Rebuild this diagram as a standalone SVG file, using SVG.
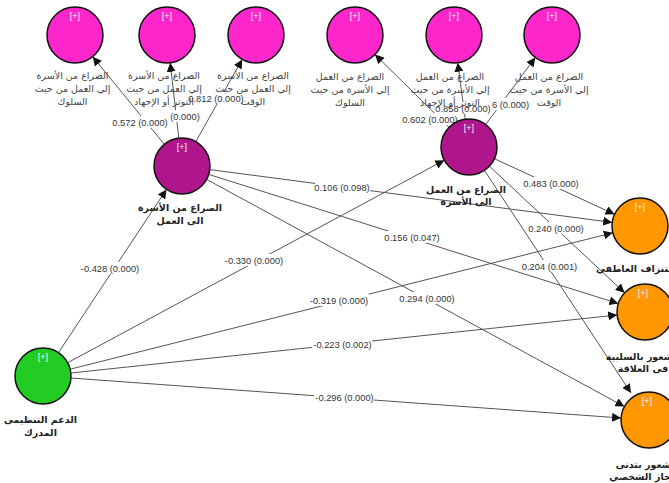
<svg xmlns="http://www.w3.org/2000/svg" width="669" height="483" viewBox="0 0 669 483">
<defs>
<marker id="arr" viewBox="0 0 10 10" refX="10" refY="5" markerWidth="9" markerHeight="9" markerUnits="userSpaceOnUse" orient="auto">
<path d="M0,0 L10,5 L0,10 z" fill="#111"/>
</marker>
<style>
.c{stroke:#111;stroke-width:1.5}
.mg{fill:#FD26CB}
.pu{fill:#B0168B}
.or{fill:#FF9700}
.gr{fill:#22CC22}
.plus{font-family:"Liberation Sans",sans-serif;font-size:9px;fill:#f4f4f4;text-anchor:middle}
.ind{font-family:"DejaVu Sans",sans-serif;font-size:9.5px;fill:#444;text-anchor:middle}
.lv{font-family:"DejaVu Sans",sans-serif;font-size:9.5px;font-weight:bold;fill:#222;text-anchor:middle}
.ln{stroke:#555;stroke-width:1;fill:none;marker-end:url(#arr)}
.lb{font-family:"Liberation Sans",sans-serif;font-size:9.3px;fill:#333;text-anchor:middle}
.bg{fill:#fff}
</style>
</defs>
<g id="connectors">
<line class="ln" x1="164.3" y1="144.3" x2="92.7" y2="56.7"/>
<line class="ln" x1="178.8" y1="138.2" x2="170.2" y2="62.8"/>
<line class="ln" x1="195.8" y1="141.6" x2="242.2" y2="59.4"/>
<line class="ln" x1="449" y1="127.4" x2="375" y2="54.6"/>
<line class="ln" x1="465.3" y1="119.3" x2="457.7" y2="62.7"/>
<line class="ln" x1="485.7" y1="124.5" x2="535.3" y2="57.5"/>
<line class="ln" x1="58.5" y1="352.6" x2="166.5" y2="189.4"/>
<line class="ln" x1="67.7" y1="362.7" x2="444.3" y2="160.2"/>
<line class="ln" x1="70.2" y1="369.2" x2="612.8" y2="232.8"/>
<line class="ln" x1="70.8" y1="373" x2="617.2" y2="315"/>
<line class="ln" x1="70.9" y1="378" x2="621.1" y2="418"/>
<line class="ln" x1="209.8" y1="169.6" x2="612.2" y2="222.4"/>
<line class="ln" x1="208.7" y1="174.4" x2="618.3" y2="303.6"/>
<line class="ln" x1="206.6" y1="179.4" x2="624.4" y2="406.6"/>
<line class="ln" x1="494.4" y1="158.7" x2="614.6" y2="214.3"/>
<line class="ln" x1="489.4" y1="166.2" x2="624.6" y2="292.8"/>
<line class="ln" x1="484.4" y1="170.4" x2="631" y2="393"/>
<rect class="bg" x="112" y="116" width="57" height="12"/><text class="lb" x="140" y="125.5">0.572 (0.000)</text>
<rect class="bg" x="171" y="110" width="28" height="12"/><text class="lb" x="185" y="119.5">(0.000)</text>
<rect class="bg" x="189" y="92" width="55" height="12"/><text class="lb" x="216" y="101.5">0.812 (0.000)</text>
<rect class="bg" x="403" y="113" width="55" height="12"/><text class="lb" x="430" y="122.5">0.602 (0.000)</text>
<rect class="bg" x="493" y="98" width="35" height="12"/><text class="lb" x="510.5" y="107.5">6 (0.000)</text>
<rect class="bg" x="436" y="102" width="55" height="12"/><text class="lb" x="463" y="111.5">0.858 (0.000)</text>
<rect class="bg" x="80" y="262" width="60" height="12"/><text class="lb" x="110" y="271.5">-0.428 (0.000)</text>
<rect class="bg" x="224" y="254" width="60" height="12"/><text class="lb" x="254" y="263.5">-0.330 (0.000)</text>
<rect class="bg" x="309" y="294" width="60" height="12"/><text class="lb" x="339" y="303.5">-0.319 (0.000)</text>
<rect class="bg" x="312" y="338" width="60" height="12"/><text class="lb" x="342.5" y="347.5">-0.223 (0.002)</text>
<rect class="bg" x="314" y="391" width="60" height="12"/><text class="lb" x="344.5" y="400.5">-0.296 (0.000)</text>
<rect class="bg" x="315" y="181" width="55" height="12"/><text class="lb" x="342" y="190.5">0.106 (0.098)</text>
<rect class="bg" x="385" y="231" width="55" height="12"/><text class="lb" x="412" y="240.5">0.156 (0.047)</text>
<rect class="bg" x="400" y="292" width="55" height="12"/><text class="lb" x="427" y="301.5">0.294 (0.000)</text>
<rect class="bg" x="524" y="177" width="55" height="12"/><text class="lb" x="551" y="186.5">0.483 (0.000)</text>
<rect class="bg" x="529" y="222" width="55" height="12"/><text class="lb" x="556" y="231.5">0.240 (0.000)</text>
<rect class="bg" x="522" y="260" width="55" height="12"/><text class="lb" x="549.5" y="269.5">0.204 (0.001)</text>
</g>
<g id="a1"><circle class="c mg" cx="75" cy="35" r="28"/><text class="plus" x="75" y="19">[+]</text>
<text class="ind" x="72.5" y="79">الصراع من الأسرة</text><text class="ind" x="72.5" y="92">إلي العمل من حيث</text><text class="ind" x="72.5" y="105">السلوك</text></g>
<g id="a2"><circle class="c mg" cx="167" cy="35" r="28"/><text class="plus" x="167" y="19">[+]</text>
<text class="ind" x="164" y="79">الصراع من الأسرة</text><text class="ind" x="164" y="92">إلي العمل من حيث</text><text class="ind" x="164" y="105">التوتر أو الإجهاد</text></g>
<g id="a3"><circle class="c mg" cx="256" cy="35" r="28"/><text class="plus" x="256" y="19">[+]</text>
<text class="ind" x="253" y="79">الصراع من الأسرة</text><text class="ind" x="253" y="92">إلي العمل من حيث</text><text class="ind" x="253" y="105">الوقت</text></g>
<g id="b1"><circle class="c mg" cx="355" cy="35" r="28"/><text class="plus" x="355" y="19">[+]</text>
<text class="ind" x="350" y="80">الصراع من العمل</text><text class="ind" x="350" y="93">إلي الأسرة من حيث</text><text class="ind" x="350" y="106">السلوك</text></g>
<g id="b2"><circle class="c mg" cx="454" cy="35" r="28"/><text class="plus" x="454" y="19">[+]</text>
<text class="ind" x="450" y="80">الصراع من العمل</text><text class="ind" x="450" y="93">إلي الأسرة من حيث</text><text class="ind" x="450" y="106">التوتر أو الإجهاد</text></g>
<g id="b3"><circle class="c mg" cx="552" cy="35" r="28"/><text class="plus" x="552" y="19">[+]</text>
<text class="ind" x="549" y="80">الصراع من العمل</text><text class="ind" x="549" y="93">إلي الأسرة من حيث</text><text class="ind" x="549" y="106">الوقت</text></g>
<g id="p1"><circle class="c pu" cx="182" cy="166" r="28"/><text class="plus" x="182" y="150">[+]</text>
<text class="lv" x="180" y="211">الصراع من الأسرة</text><text class="lv" x="180" y="224">الى العمل</text></g>
<g id="p2"><circle class="c pu" cx="469" cy="147" r="28"/><text class="plus" x="469" y="131">[+]</text>
<text class="lv" x="466" y="193">الصراع من العمل</text><text class="lv" x="466" y="205">الى الأسرة</text></g>
<g id="g"><circle class="c gr" cx="43" cy="376" r="28"/><text class="plus" x="43" y="360">[+]</text>
<text class="lv" x="40.5" y="423">الدعم التنظيمى</text><text class="lv" x="40.5" y="436">المدرك</text></g>
<g id="o1"><circle class="c or" cx="640" cy="226" r="28"/><text class="plus" x="640" y="210">[+]</text>
<text class="lv" x="642" y="272">الاستنزاف العاطفي</text></g>
<g id="o2"><circle class="c or" cx="645" cy="312" r="28"/><text class="plus" x="643" y="296">[+]</text>
<text class="lv" x="643" y="360">الشعور بالسلبية</text><text class="lv" x="643" y="372">فى العلاقة</text></g>
<g id="o3"><circle class="c or" cx="649" cy="420" r="28"/><text class="plus" x="647" y="404">[+]</text>
<text class="lv" x="647" y="468">الشعور بتدنى</text><text class="lv" x="647" y="480">الإنجاز الشخصي</text></g>
</svg>
